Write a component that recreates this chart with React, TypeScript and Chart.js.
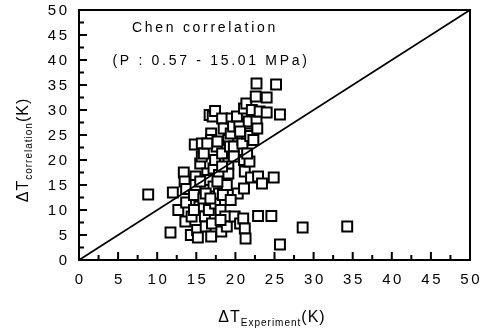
import React, { useEffect, useRef } from "react";
import { Chart, registerables } from "chart.js";

Chart.register(...registerables);

const xExperiment: number[] = [
  8.85, 11.7, 12.0, 12.7, 13.4, 13.5, 13.7, 13.7, 13.6, 14.3, 14.4, 14.7, 14.8, 14.9, 14.9,
  15.1, 15.2, 15.4, 15.5, 15.7, 15.7, 15.96, 15.9, 16.1, 16.2, 16.4, 16.6, 16.6, 16.7, 16.9,
  16.9, 16.9, 17.0, 17.1, 17.2, 17.2, 17.4, 17.4, 17.4, 17.6, 17.7, 17.9, 17.9, 18.1, 18.2,
  18.3, 18.3, 18.4, 18.5, 18.7, 18.9, 18.9, 19.1, 19.1, 19.1, 19.3, 19.4, 19.5, 19.7, 19.8,
  19.9, 20.2, 20.3, 20.5, 20.6, 20.9, 20.9, 21.0, 21.1, 21.1, 21.1, 21.2, 21.2, 21.3, 21.4,
  21.5, 21.7, 21.8, 21.9, 22.0, 22.1, 22.3, 22.6, 22.7, 22.7, 22.8, 22.9, 22.9, 23.1, 23.4,
  24.0, 24.0, 24.6, 24.9, 25.2, 25.7, 25.7, 28.6, 34.3,
  16.2, 15.5, 17.7, 19.8, 18.3, 19.4, 16.4, 14.7, 16.8, 18.1, 20.6, 21.5,
];
const yCorrelation: number[] = [
  13.1, 5.5, 13.5, 10.0, 17.5, 15.7, 14.2, 11.5, 7.7, 5.0, 8.7, 13.0, 23.1, 16.7, 15.0,
  6.0, 4.5, 10.7, 19.3, 20.7, 23.3, 21.3, 12.3, 8.7, 6.7, 17.3, 16.0, 10.0, 29.0, 25.3,
  24.0, 4.7, 7.3, 28.7, 18.3, 14.7, 29.8, 20.0, 11.3, 22.7, 23.7, 17.0, 13.3, 10.0, 5.7,
  28.3, 21.3, 13.0, 26.3, 8.7, 6.7, 15.0, 17.3, 19.3, 24.0, 22.7, 25.3, 28.3, 26.7, 22.7,
  8.7, 28.7, 13.3, 26.7, 7.3, 24.0, 23.3, 8.3, 30.3, 20.0, 14.3, 17.7, 6.3, 4.3, 31.3,
  25.3, 27.7, 19.7, 24.8, 16.5, 30.0, 24.0, 32.7, 35.3, 27.7, 26.3, 16.7, 8.8, 29.7, 15.3,
  32.5, 29.5, 8.8, 16.5, 35.1, 3.1, 29.1, 6.5, 6.7,
  13.3, 15.7, 15.7, 20.7, 18.7, 12.0, 23.3, 10.0, 12.3, 8.0, 25.7, 21.3,
];
const diagonalX: number[] = [0, 50];
const diagonalY: number[] = [0, 50];
const tickValues: number[] = [0, 5, 10, 15, 20, 25, 30, 35, 40, 45, 50];
const annotationTitle = "Chen correlation";
const annotationRange = "(P : 0.57 - 15.01 MPa)";
const xTitleMain = "ΔT";
const xTitleSub = "Experiment";
const yTitleMain = "ΔT";
const yTitleSub = "correlation";
const titleUnit = "(K)";

const FONT = "Liberation Sans, Arial, sans-serif";

export default function App() {
  const ref = useRef<HTMLCanvasElement | null>(null);

  useEffect(() => {
    if (!ref.current) return;
    const decoPlugin = {
      id: "deco",
      afterDraw(chart: any) {
        const ctx = chart.ctx as CanvasRenderingContext2D;
        const { left, right, top, bottom } = chart.chartArea;
        const xs = chart.scales.x;
        const ys = chart.scales.y;
        ctx.save();
        ctx.strokeStyle = "#000";
        ctx.lineWidth = 2;
        ctx.strokeRect(left, top, right - left, bottom - top);
        ctx.beginPath();
        for (let v = 2.5; v < 50; v += 2.5) {
          const major = Math.abs(v % 5) < 1e-6;
          const len = major ? 8 : 5;
          const px = xs.getPixelForValue(v);
          ctx.moveTo(px, bottom);
          ctx.lineTo(px, bottom - len);
          const py = ys.getPixelForValue(v);
          ctx.moveTo(left, py);
          ctx.lineTo(left + len, py);
        }
        ctx.stroke();

        // tick labels
        const sp = 2.6;
        (ctx as any).letterSpacing = sp + "px";
        ctx.fillStyle = "#000";
        ctx.font = `15px ${FONT}`;
        ctx.textBaseline = "middle";
        ctx.textAlign = "right";
        for (const v of tickValues) {
          ctx.fillText(String(v), left - 12 + sp, ys.getPixelForValue(v) + 0.5);
        }
        ctx.textAlign = "center";
        for (const v of tickValues) {
          ctx.fillText(String(v), xs.getPixelForValue(v) + sp / 2, bottom + 20);
        }

        ctx.font = `14px ${FONT}`;
        (ctx as any).letterSpacing = "2.7px";
        ctx.fillText(annotationTitle, 205, 28);
        ctx.fillText(annotationRange, 211, 61);

        // x title
        (ctx as any).letterSpacing = "1px";
        ctx.textAlign = "left";
        ctx.textBaseline = "alphabetic";
        const mainFont = `16px ${FONT}`;
        const subFont = `10px ${FONT}`;
        ctx.font = mainFont;
        const w1 = ctx.measureText(xTitleMain).width;
        ctx.font = subFont;
        const w2 = ctx.measureText(xTitleSub).width;
        ctx.font = mainFont;
        const w3 = ctx.measureText(titleUnit).width;
        let x0 = 272 - (w1 + w2 + w3) / 2;
        ctx.font = mainFont;
        ctx.fillText(xTitleMain, x0, 322);
        x0 += w1;
        ctx.font = subFont;
        ctx.fillText(xTitleSub, x0, 326);
        x0 += w2;
        ctx.font = mainFont;
        ctx.fillText(titleUnit, x0, 322);

        // y title
        ctx.save();
        ctx.translate(28, 150);
        ctx.rotate(-Math.PI / 2);
        ctx.font = mainFont;
        const v1 = ctx.measureText(yTitleMain).width;
        ctx.font = subFont;
        const v2 = ctx.measureText(yTitleSub).width;
        ctx.font = mainFont;
        const v3 = ctx.measureText(titleUnit).width;
        let y0 = -(v1 + v2 + v3) / 2;
        ctx.fillText(yTitleMain, y0, 0);
        y0 += v1;
        ctx.font = subFont;
        ctx.fillText(yTitleSub, y0, 4);
        y0 += v2;
        ctx.font = mainFont;
        ctx.fillText(titleUnit, y0, 0);
        ctx.restore();
        ctx.restore();
      },
    };

    const chart = new Chart(ref.current, {
      type: "scatter",
      data: {
        datasets: [
          {
            type: "line",
            data: diagonalX.map((x, i) => ({ x, y: diagonalY[i] })),
            borderColor: "#000",
            borderWidth: 1.8,
            pointRadius: 0,
            fill: false,
          } as any,
          {
            data: xExperiment.map((x, i) => ({ x, y: yCorrelation[i] })),
            pointStyle: "rect",
            pointRadius: 7,
            pointBackgroundColor: "#fff",
            pointBorderColor: "#000",
            pointBorderWidth: 2,
          },
        ],
      },
      options: {
        animation: false,
        responsive: false,
        maintainAspectRatio: false,
        layout: { padding: { left: 0, top: 10, right: 12, bottom: 0 } },
        plugins: { legend: { display: false }, tooltip: { enabled: false } },
        scales: {
          x: {
            type: "linear",
            min: 0,
            max: 50,
            grid: { display: false, drawTicks: false },
            border: { display: false },
            ticks: { display: false, stepSize: 5 },
            afterFit(scale: any) {
              scale.height = 72;
            },
          },
          y: {
            type: "linear",
            min: 0,
            max: 50,
            grid: { display: false, drawTicks: false },
            border: { display: false },
            ticks: { display: false, stepSize: 5 },
            afterFit(scale: any) {
              scale.width = 79;
            },
          },
        },
      },
      plugins: [decoPlugin],
    });
    return () => chart.destroy();
  }, []);

  return (
    <div style={{ position: "fixed", left: 0, top: 0, width: 482, height: 332, background: "#fff" }}>
      <canvas ref={ref} width={482} height={332} style={{ width: 482, height: 332 }} />
    </div>
  );
}
